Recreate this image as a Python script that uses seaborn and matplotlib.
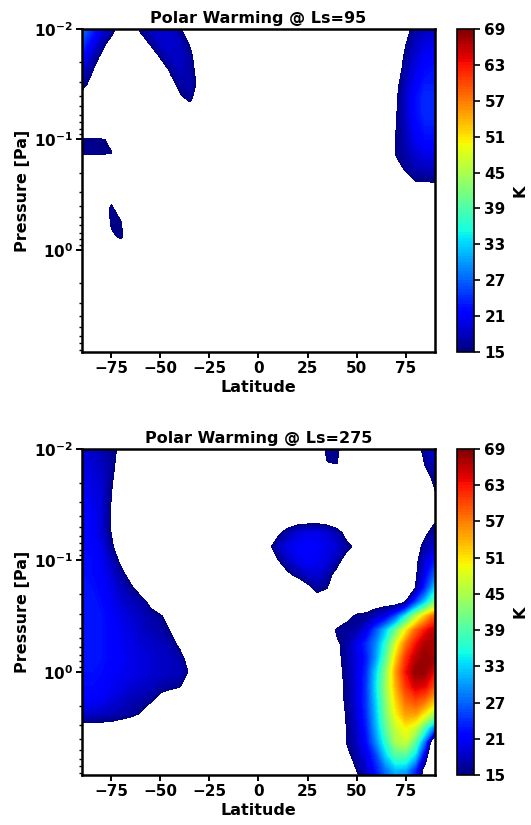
import numpy as np
import matplotlib
matplotlib.use("Agg")
import matplotlib.pyplot as plt
import seaborn as sns

# ---------------- data ----------------
latitude = [-90, -85, -80, -75, -70, -65, -60, -55, -50, -45, -40, -35, -30, -25,
            -20, -15, -10, -5, 0, 5, 10, 15, 20, 25, 30, 35, 40, 45, 50, 55, 60,
            65, 70, 75, 80, 85, 90]
pressure_pa = [0.01, 0.01334, 0.01778, 0.02371, 0.03162, 0.04217, 0.05623, 0.07499,
               0.1, 0.1334, 0.1778, 0.2371, 0.3162, 0.4217, 0.5623, 0.7499,
               1.0, 1.334, 1.778, 2.371, 3.162, 4.217, 5.623, 7.499, 10.0]
BG = 8  # weak warming (below the lowest contour level -> left blank)

warming_ls95 = [
    [28, 24, 20, 17, 12, 11, 16, 18, 19, 18.5, 15.5, 11] + [BG] * 21 + [13, 17, 18, 18.5],
    [25, 21, 17, 13, 10, 8, 12, 15.8, 18.5, 19, 18, 14.5, 10] + [BG] * 19 + [10, 14.7, 18, 19.5, 20],
    [22, 18, 14, 10, 8, 8, 8, 11, 15.5, 18, 18.5, 16.5, 11] + [BG] * 19 + [11, 16, 19, 21, 21.5],
    [19, 15.5, 11, 8, 8, 8, 8, 8, 11, 15.5, 18, 17, 12.5] + [BG] * 19 + [12, 17, 20, 22, 22.5],
    [17, 13, 9] + [BG] * 6 + [13, 16.5, 17.5, 13.5, 9] + [BG] * 18 + [13.5, 18, 21, 23, 23],
    [12, 9] + [BG] * 8 + [14, 16, 12] + [BG] * 18 + [9, 14.3, 18.5, 22, 24, 24],
    [BG] * 10 + [11, 12, 10] + [BG] * 18 + [10, 14.5, 18.5, 22, 24, 24],
    [BG] * 31 + [10, 14.8, 18, 21.5, 23, 23],
    [15.4, 15.5, 15.3, 14.4] + [BG] * 27 + [10, 15.2, 17.5, 20.5, 22, 22],
    [15.5, 15.6, 15.5, 15.1] + [BG] * 27 + [10, 15.3, 17, 19, 20, 20],
    [BG] * 31 + [9, 13, 16, 17.5, 18, 18],
    [BG] * 33 + [12, 15.1, 15.4, 15.5],
    [8, 8, 8, 12] + [BG] * 29 + [9, 9, 9, 9],
    [8, 8, 9, 16.5, 10] + [BG] * 32,
    [8, 8, 9, 15.8, 15.2] + [BG] * 32,
    [8, 8, 8, 14, 16, 9] + [BG] * 31,
    [8, 8, 8, 8, 10] + [BG] * 32,
    [BG] * 37,
    [BG] * 37,
    [BG] * 37,
    [BG] * 37,
    [BG] * 37,
    [BG] * 37,
    [BG] * 37,
    [BG] * 37,
]

warming_ls275 = [
    [19, 18.5, 17.5, 16, 14.1, 10] + [BG] * 18 + [10, 16.5, 16.5, 10] + [BG] * 6 + [12, 17, 19],
    [19.5, 19, 18, 16.5, 12.3] + [BG] * 20 + [14.8, 15.2, 9] + [BG] * 6 + [10, 15.5, 18.5],
    [20, 19.5, 18.5, 16, 11] + [BG] * 20 + [10, 10] + [BG] * 8 + [13, 16.5],
    [20.5, 20, 19, 15.2, 10] + [BG] * 30 + [11, 14.9],
    [21, 20.5, 19, 14.7, 9] + [BG] * 31 + [12],
    [21.5, 21, 19, 14.5, 9] + [BG] * 16 + [11, 12.3, 12.3, 12.5, 12, 11] + [BG] * 8 + [10, 14.2],
    [22, 21, 19, 14.8, 9] + [BG] * 14 + [10, 14, 17, 19, 20, 20, 19, 17, 13, 10] + [BG] * 5 + [10, 14, 17],
    [22, 21.5, 20, 16, 11] + [BG] * 13 + [10, 13.5, 18, 20, 21, 21.5, 21, 20, 19, 16.5, 13.5] + [BG] * 4 + [9, 12, 17, 19],
    [22.5, 22, 20.5, 18, 13.7, 9] + [BG] * 13 + [10, 14.8, 18, 20, 21, 20.5, 19.5, 17, 12] + [BG] * 5 + [9, 13.5, 19, 23],
    [22.5, 22, 21, 19, 16.5, 12.8] + [BG] * 14 + [10, 14, 16.5, 18.5, 19, 17, 13, 10] + [BG] * 5 + [9, 14, 21, 27],
    [23, 22.5, 21.5, 20, 18, 16, 12.7] + [BG] * 15 + [9, 13, 16.5, 15, 10] + [BG] * 6 + [10, 15.2, 24, 33],
    [23, 23, 22, 20.5, 19, 18, 17, 13.7] + [BG] * 16 + [11, 11, 8, 10, 12.4, 12.4, 12.8, 12.9, 12.75, 15.3, 25, 33, 42],
    [23, 23, 22.5, 21, 20, 19, 18, 17, 16, 11] + [BG] * 16 + [10, 14, 15.5, 16, 18, 20.5, 26, 35, 45, 53, 59],
    [23, 23, 22.5, 21.5, 20.5, 19.5, 18.5, 17.5, 17, 14.8, 10] + [BG] * 14 + [10, 15.8, 16.5, 17, 20, 26, 32.5, 41, 50, 58, 63, 66],
    [23, 23, 22.5, 21.5, 20.5, 20, 19, 18.5, 18, 17, 13.7] + [BG] * 15 + [14, 17, 20, 24, 29, 37, 48, 57, 63, 67, 67],
    [23, 23, 22.5, 21.5, 21, 20, 19.5, 19, 18.5, 18, 17, 12] + [BG] * 14 + [13.5, 17, 19.5, 23, 30, 40, 52, 61, 66, 68, 67],
    [22.5, 22.5, 22, 21, 20.5, 20, 19.5, 19, 18.5, 18, 18, 14.3] + [BG] * 14 + [13, 16.5, 19.5, 24, 33, 43, 55, 63, 68, 68, 63],
    [22, 22, 21.5, 20.5, 20, 19, 18.5, 18, 17, 16.5, 15.5, 10] + [BG] * 14 + [13, 16, 19.5, 24.5, 34, 44, 54, 61, 65, 64, 59],
    [21, 21, 20.5, 19.5, 18.5, 17.5, 17, 16, 12.7, 10] + [BG] * 16 + [12.5, 16, 19.5, 24.5, 33, 43, 52, 58, 60, 58, 53],
    [18.5, 18.5, 18, 17.5, 17, 16.5, 14.6, 10] + [BG] * 18 + [12, 15.5, 19, 24, 32, 42, 50, 55, 55, 50, 44],
    [12.7, 12.7, 12.7, 12.7, 11.4, 9] + [BG] * 20 + [11, 15.2, 18.5, 23, 31, 40, 47, 50, 47, 38, 27],
    [BG] * 26 + [10, 15.3, 18, 22, 29, 37, 45, 47, 40, 27, 5],
    [BG] * 26 + [9, 13.5, 17, 20, 25, 33, 39, 39, 33, 19, 3],
    [BG] * 27 + [9, 15.2, 18.5, 23, 28, 32, 31, 24, 12, 3],
    [BG] * 27 + [6, 12, 16, 20, 25, 28, 27, 20, 9, 2],
]

panel_titles = ["Polar Warming @ Ls=95", "Polar Warming @ Ls=275"]
lat_ticks = [-75, -50, -25, 0, 25, 50, 75]
cbar_ticks = [15, 21, 27, 33, 39, 45, 51, 57, 63, 69]

# ---------------- style ----------------
sns.set_theme(style="ticks")
plt.rcParams.update({
    "font.family": ["DejaVu Sans"],
    "font.weight": "bold",
    "axes.labelweight": "bold",
    "axes.titleweight": "bold",
    "mathtext.default": "bf",
    "text.color": "black",
    "axes.labelcolor": "black",
    "axes.titlecolor": "black",
    "axes.linewidth": 1.8,
    "xtick.major.width": 1.4,
    "ytick.major.width": 1.4,
    "ytick.minor.width": 1.0,
    "xtick.major.size": 4.5,
    "ytick.major.size": 4.5,
    "ytick.minor.size": 2.5,
    "xtick.color": "black",
    "ytick.color": "black",
    "axes.edgecolor": "black",
})

cmap = matplotlib.colormaps["jet"]
levels = np.linspace(cbar_ticks[0], cbar_ticks[-1], 109)

fig = plt.figure(figsize=(5.31, 8.25), dpi=100)
ax_rects = [[0.1544, 0.5733, 0.6648, 0.3915], [0.1544, 0.0606, 0.6648, 0.3952]]
cax_rects = [[0.8606, 0.5733, 0.032, 0.3915], [0.8606, 0.0606, 0.032, 0.3952]]

lat = np.array(latitude)
pres = np.array(pressure_pa)
for data, title, r, cr in zip([warming_ls95, warming_ls275], panel_titles, ax_rects, cax_rects):
    z = np.array(data, dtype=float)
    ax = fig.add_axes(r)
    cf = ax.contourf(lat, pres, z, levels=levels, cmap=cmap)
    ax.set_yscale("log")
    ax.set_ylim(8.4, 0.01)
    ax.set_xlim(-90, 90)
    ax.set_xticks(lat_ticks)
    ax.set_xlabel("Latitude", fontsize=11.5, labelpad=3)
    ax.set_ylabel("Pressure [Pa]", fontsize=11.5, labelpad=3)
    ax.set_title(title, fontsize=11.5, pad=4)
    ax.tick_params(axis="both", labelsize=11, pad=2)
    for lab in ax.get_xticklabels() + ax.get_yticklabels():
        lab.set_fontweight("bold")
    cax = fig.add_axes(cr)
    cb = fig.colorbar(cf, cax=cax, ticks=cbar_ticks)
    cb.outline.set_linewidth(1.2)
    cb.ax.tick_params(labelsize=11, length=4, width=1.2)
    for lab in cb.ax.get_yticklabels():
        lab.set_fontweight("bold")
    cb.set_label("K", fontsize=11.5, fontweight="bold", labelpad=5)

fig.savefig("out.png", dpi=100)
